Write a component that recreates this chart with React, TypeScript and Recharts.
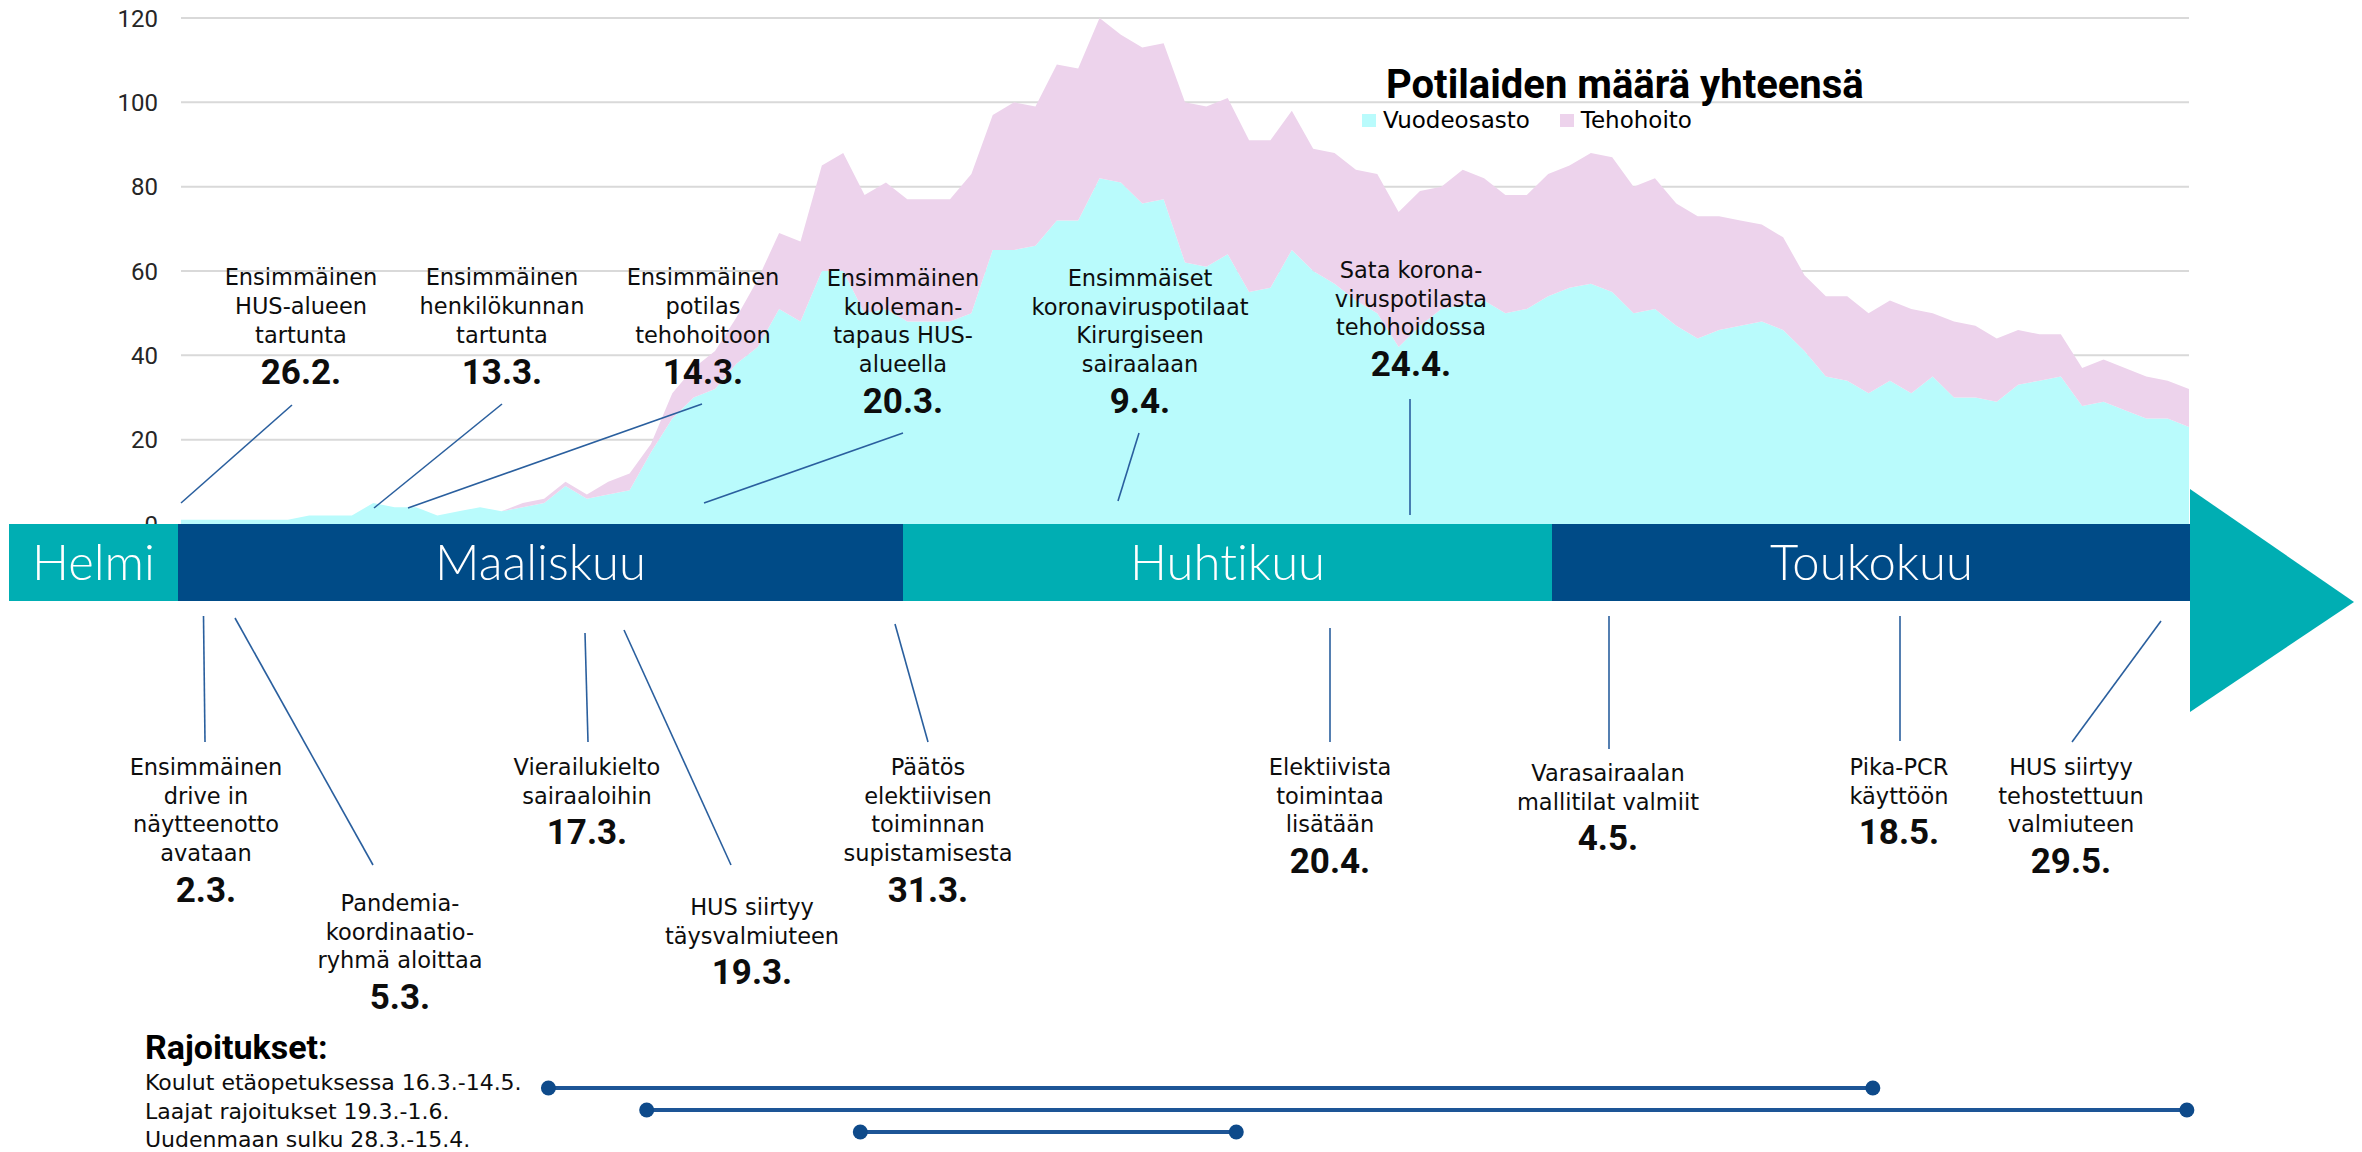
import React from "react";
import { AreaChart, Area, XAxis, YAxis, CartesianGrid, Legend, LineChart, Line } from "recharts";

// päivät 27.2. - 31.5.
const helmikuu = ["27.2.", "28.2.", "29.2."];
const maaliskuu = ["1.3.", "2.3.", "3.3.", "4.3.", "5.3.", "6.3.", "7.3.", "8.3.", "9.3.", "10.3.", "11.3.", "12.3.", "13.3.", "14.3.", "15.3.", "16.3.", "17.3.", "18.3.", "19.3.", "20.3.", "21.3.", "22.3.", "23.3.", "24.3.", "25.3.", "26.3.", "27.3.", "28.3.", "29.3.", "30.3.", "31.3."];
const huhtikuu = ["1.4.", "2.4.", "3.4.", "4.4.", "5.4.", "6.4.", "7.4.", "8.4.", "9.4.", "10.4.", "11.4.", "12.4.", "13.4.", "14.4.", "15.4.", "16.4.", "17.4.", "18.4.", "19.4.", "20.4.", "21.4.", "22.4.", "23.4.", "24.4.", "25.4.", "26.4.", "27.4.", "28.4.", "29.4.", "30.4."];
const toukokuu = ["1.5.", "2.5.", "3.5.", "4.5.", "5.5.", "6.5.", "7.5.", "8.5.", "9.5.", "10.5.", "11.5.", "12.5.", "13.5.", "14.5.", "15.5.", "16.5.", "17.5.", "18.5.", "19.5.", "20.5.", "21.5.", "22.5.", "23.5.", "24.5.", "25.5.", "26.5.", "27.5.", "28.5.", "29.5.", "30.5.", "31.5."];
const paivat = [...helmikuu, ...maaliskuu, ...huhtikuu, ...toukokuu];

const vuodeosasto = [
  1, 1, 1, 1, 1, 1, 2, 2, 2, 5,
  4, 4, 2, 3, 4, 3, 4, 5, 9, 6,
  7, 8, 17, 25, 30, 32, 38, 42, 51, 48,
  60, 60, 50, 51, 48, 48, 48, 50, 65, 65,
  66, 72, 72, 82, 81, 76, 77, 62, 61, 64,
  55, 56, 65, 60, 57, 53, 50, 42, 47, 51,
  52, 53, 50, 51, 54, 56, 57, 55, 50, 51,
  47, 44, 46, 47, 48, 46, 41, 35, 34, 31,
  34, 31, 35, 30, 30, 29, 33, 34, 35, 28,
  29, 27, 25, 25, 23,
];
const tehohoito = [
  0, 0, 0, 0, 0, 0, 0, 0, 0, 0,
  0, 0, 0, 0, 0, 0, 1, 1, 1, 1,
  3, 4, 2, 6, 7, 9, 11, 16, 18, 19,
  25, 28, 28, 30, 29, 29, 29, 33, 32, 35,
  33, 37, 36, 38, 35, 37, 37, 38, 38, 37,
  36, 35, 33, 29, 31, 31, 33, 32, 32, 29,
  32, 29, 28, 27, 29, 29, 31, 32, 30, 31,
  29, 29, 27, 25, 23, 22, 18, 19, 20, 19,
  19, 20, 15, 18, 17, 15, 13, 11, 10, 9,
  10, 10, 10, 9, 9,
];
const yTicks = [0, 20, 40, 60, 80, 100, 120];

const kuukaudet = ["Helmi", "Maaliskuu", "Huhtikuu", "Toukokuu"];

const tapahtumaTekstit = [
  ["Ensimmäinen", "HUS-alueen", "tartunta"],
  ["Ensimmäinen", "henkilökunnan", "tartunta"],
  ["Ensimmäinen", "potilas", "tehohoitoon"],
  ["Ensimmäinen", "kuoleman-", "tapaus HUS-", "alueella"],
  ["Ensimmäiset", "koronaviruspotilaat", "Kirurgiseen", "sairaalaan"],
  ["Sata korona-", "viruspotilasta", "tehohoidossa"],
  ["Ensimmäinen", "drive in", "näytteenotto", "avataan"],
  ["Pandemia-", "koordinaatio-", "ryhmä aloittaa"],
  ["Vierailukielto", "sairaaloihin"],
  ["HUS siirtyy", "täysvalmiuteen"],
  ["Päätös", "elektiivisen", "toiminnan", "supistamisesta"],
  ["Elektiivista", "toimintaa", "lisätään"],
  ["Varasairaalan", "mallitilat valmiit"],
  ["Pika-PCR", "käyttöön"],
  ["HUS siirtyy", "tehostettuun", "valmiuteen"],
];
const tapahtumaPvm = ["26.2.", "13.3.", "14.3.", "20.3.", "9.4.", "24.4.", "2.3.", "5.3.", "17.3.", "19.3.", "31.3.", "20.4.", "4.5.", "18.5.", "29.5."];

const rajoitusNimet = ["Koulut etäopetuksessa 16.3.-14.5.", "Laajat rajoitukset 19.3.-1.6.", "Uudenmaan sulku 28.3.-15.4."];
// day index from 27.2., as placed in the picture
const rajoitusAlku = [17.2, 21.8, 31.8];
const rajoitusLoppu = [79.2, 93.9, 49.4];

// layout (px)
const W = 2362;
const H = 1152;
const bandEdges = [9, 178, 903, 1552, 2191];
const labelPos = [
  [301, 285.5], [502, 285.5], [703, 285.5], [903, 286], [1140, 286], [1411, 278],
  [206, 775], [400, 911], [587, 775], [752, 915], [928, 775], [1330, 775], [1608, 781], [1899, 775], [2071, 775],
];
const pointers = [
  [292, 405, 181, 503], [502, 404, 374, 508], [702, 404, 408, 508], [903, 433, 704, 503], [1139, 433, 1118, 501], [1410, 399, 1410, 515],
  [203.5, 616, 205, 742], [235, 618, 373, 865], [585, 633, 588, 742], [624, 630, 731, 865], [895, 624, 928, 742],
  [1330, 628, 1330, 742], [1609, 616, 1609, 749], [1900, 616, 1900, 741], [2161, 621, 2072, 742],
];

const TEAL = "#00AEB3";
const NAVY = "#004B87";
const CYAN = "#B9FBFC";
const PINK = "#EDD3EC";
const POINTER = "#2A5F9E";
const TEXT_FONT = "'DejaVu Sans', sans-serif";
const BOLD_FONT = "Roboto, sans-serif";

const data = paivat.map((p, i) => ({ pvm: p, vuodeosasto: vuodeosasto[i], tehohoito: tehohoito[i] }));

const sarjat = ["Vuodeosasto", "Tehohoito"];

function LegendBox(props: any) {
  const items = [...(props.payload || [])].sort((a: any, b: any) => sarjat.indexOf(a.value) - sarjat.indexOf(b.value));
  return (
    <div style={{ color: "#000" }}>
      <div style={{ fontFamily: BOLD_FONT, fontWeight: 700, fontSize: 40, lineHeight: "39px", marginLeft: 24, whiteSpace: "nowrap" }}>
        Potilaiden määrä yhteensä
      </div>
      <div style={{ display: "flex", height: 32, alignItems: "center" }}>
        {items.map((it: any) => (
          <div key={it.value} style={{ display: "flex", alignItems: "center", marginRight: 30 }}>
            <span style={{ width: 14, height: 13, background: it.color, marginRight: 7, display: "inline-block" }} />
            <span style={{ fontFamily: TEXT_FONT, fontSize: 23, lineHeight: "32px", whiteSpace: "nowrap" }}>{it.value}</span>
          </div>
        ))}
      </div>
    </div>
  );
}

export default function App() {
  return (
    <div style={{ position: "absolute", left: 0, top: 0, width: W, height: H, overflow: "hidden", background: "#fff" }}>
      <div style={{ position: "absolute", left: 0, top: 0 }}>
        <AreaChart width={W} height={540} data={data} margin={{ top: 18, right: 173, bottom: 16, left: 0 }}>
          <CartesianGrid vertical={false} stroke="#D9D9D9" strokeWidth={2} />
          <XAxis dataKey="pvm" hide scale="point" padding={{ left: 0, right: 0 }} />
          <YAxis
            domain={[0, 120]}
            ticks={yTicks}
            width={181}
            axisLine={false}
            tickLine={false}
            tickMargin={17}
            tick={{ fill: "#262626", fontSize: 24, fontFamily: BOLD_FONT }}
          />
          <Legend
            layout="vertical"
            align="center"
            verticalAlign="middle"
            content={LegendBox}
            wrapperStyle={{ left: 1362, top: 65, width: 560, height: 72 }}
          />
          <Area type="linear" dataKey="vuodeosasto" name="Vuodeosasto" stackId="1" stroke="none" fill={CYAN} fillOpacity={1} isAnimationActive={false} />
          <Area type="linear" dataKey="tehohoito" name="Tehohoito" stackId="1" stroke="none" fill={PINK} fillOpacity={1} isAnimationActive={false} />
        </AreaChart>
      </div>

      <svg width={W} height={H} style={{ position: "absolute", left: 0, top: 0, pointerEvents: "none" }}>
        {kuukaudet.map((k, i) => (
          <g key={k}>
            <rect x={bandEdges[i]} y={524} width={bandEdges[i + 1] - bandEdges[i]} height={77} fill={i % 2 === 0 ? TEAL : NAVY} />
            <text
              x={(bandEdges[i] + bandEdges[i + 1]) / 2}
              y={580}
              textAnchor="middle"
              fill="#fff"
              style={{ fontFamily: "Lato, sans-serif", fontWeight: 300, fontSize: 49, fontVariantLigatures: "none" }}
            >
              {k}
            </text>
          </g>
        ))}
        <polygon points="2190,489 2354,602 2190,712" fill={TEAL} />
        {pointers.map((p, i) => (
          <line key={i} x1={p[0]} y1={p[1]} x2={p[2]} y2={p[3]} stroke={POINTER} strokeWidth={1.6} />
        ))}
      </svg>

      {tapahtumaTekstit.map((rivit, i) => (
        <div
          key={i}
          style={{
            position: "absolute",
            left: labelPos[i][0] - 170,
            top: labelPos[i][1] - 22.2,
            width: 340,
            textAlign: "center",
            color: "#0d0d0d",
          }}
        >
          <div style={{ fontFamily: TEXT_FONT, fontSize: 22.5, lineHeight: "28.8px" }}>
            {rivit.map((r, j) => (
              <div key={j} style={{ whiteSpace: "nowrap" }}>{r}</div>
            ))}
          </div>
          <div style={{ fontFamily: BOLD_FONT, fontWeight: 700, fontSize: 35, lineHeight: "46px" }}>{tapahtumaPvm[i]}</div>
        </div>
      ))}

      <div style={{ position: "absolute", left: 145, top: 1027, fontFamily: BOLD_FONT, fontWeight: 700, fontSize: 34, lineHeight: "40px", color: "#000" }}>
        Rajoitukset:
      </div>
      {rajoitusNimet.map((n, i) => (
        <div
          key={n}
          style={{
            position: "absolute",
            left: 145,
            top: 1070 + i * 28.5,
            fontFamily: TEXT_FONT,
            fontSize: 22,
            lineHeight: "26px",
            color: "#0d0d0d",
            whiteSpace: "nowrap",
          }}
        >
          {n}
        </div>
      ))}

      <div style={{ position: "absolute", left: 0, top: 1066 }}>
        <LineChart width={W} height={88} margin={{ top: 0, right: 173, bottom: 0, left: 181 }}>
          <XAxis type="number" dataKey="paiva" domain={[0, 94]} hide />
          <YAxis type="number" domain={[-1, 3]} reversed hide />
          {rajoitusNimet.map((n, i) => (
            <Line
              key={n}
              data={[
                { paiva: rajoitusAlku[i], rivi: i },
                { paiva: rajoitusLoppu[i], rivi: i },
              ]}
              dataKey="rivi"
              stroke="#1D5596"
              strokeWidth={4}
              dot={{ r: 7.5, fill: "#0E4A8A", stroke: "#0E4A8A", strokeWidth: 0 }}
              isAnimationActive={false}
            />
          ))}
        </LineChart>
      </div>
    </div>
  );
}
